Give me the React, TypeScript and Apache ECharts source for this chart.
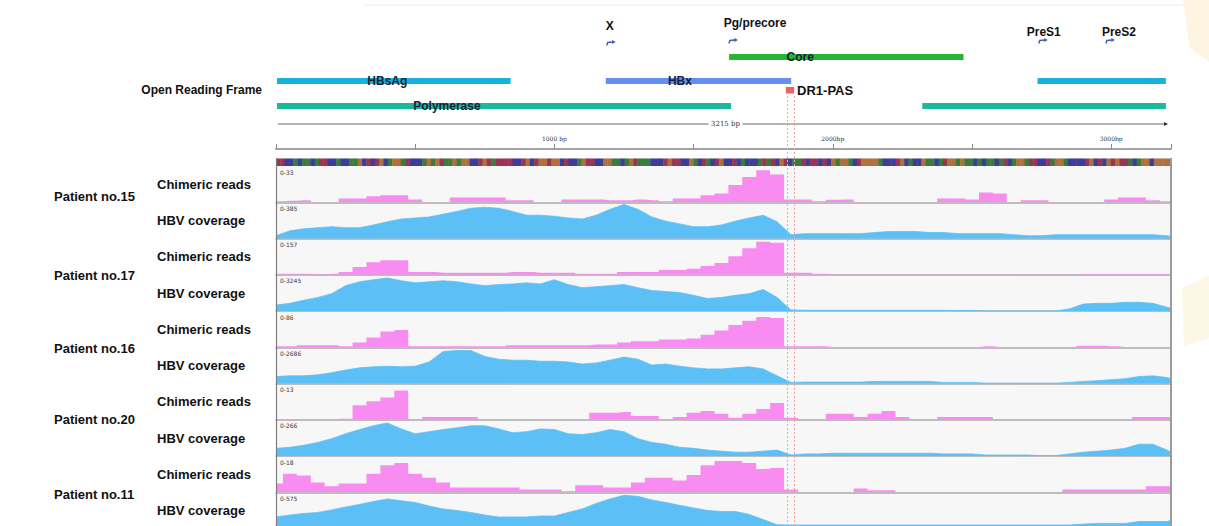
import React, { useEffect, useRef } from "react";
import * as echarts from "echarts";

// ---------------- DATA ----------------
const GENOME_LENGTH = 3215;

// bin starts (bp) shared by all coverage tracks
const binStarts = [
  0, 50, 100, 150, 200, 250, 300, 350, 400, 450,
  500, 550, 600, 650, 700, 750, 800, 850, 900, 950,
  1000, 1050, 1100, 1150, 1200, 1250, 1300, 1350, 1400, 1450,
  1500, 1550, 1600, 1650, 1700, 1750, 1800, 1850, 1900, 1950,
  2000, 2050, 2100, 2150, 2200, 2250, 2300, 2350, 2400, 2450,
  2500, 2550, 2600, 2650, 2700, 2750, 2800, 2850, 2900, 2950,
  3000, 3050, 3100, 3150, 3200, 3215,
];

// values in % of each track's data range
const chimeric15 = [
  3, 4, 6, 1, 1, 11, 11, 17, 20, 20,
  8, 1, 1, 14, 14, 14, 14, 6, 6, 1,
  1, 8, 8, 8, 6, 6, 8, 6, 3, 11,
  11, 20, 25, 50, 73, 92, 80, 8, 8, 3,
  7, 8, 1, 0, 0, 0, 0, 0, 11, 11,
  8, 28, 25, 1, 6, 6, 1, 1, 1, 1,
  8, 14, 14, 6, 3, 3,
];
const coverage15 = [
  8, 22, 28, 31, 34, 31, 31, 39, 48, 56,
  59, 62, 70, 78, 87, 90, 87, 78, 67, 67,
  64, 59, 56, 67, 84, 98, 84, 62, 50, 42,
  34, 34, 39, 50, 59, 67, 48, 11, 14, 14,
  14, 14, 14, 17, 20, 20, 20, 17, 17, 14,
  14, 14, 14, 11, 8, 8, 11, 11, 11, 11,
  11, 11, 11, 11, 8, 6,
];
const chimeric17 = [
  3, 3, 3, 1, 3, 8, 22, 36, 42, 42,
  8, 8, 6, 6, 6, 6, 6, 8, 8, 6,
  6, 6, 3, 3, 3, 8, 8, 8, 14, 14,
  17, 25, 34, 53, 76, 95, 92, 6, 6, 3,
  1, 1, 1, 1, 1, 1, 1, 1, 1, 1,
  1, 1, 1, 1, 1, 1, 1, 1, 2, 2,
  2, 2, 2, 2, 2, 1,
];
const coverage17 = [
  17, 22, 31, 39, 50, 73, 84, 90, 95, 87,
  81, 84, 87, 84, 78, 73, 76, 78, 81, 78,
  90, 76, 67, 70, 73, 76, 67, 59, 56, 53,
  45, 36, 39, 45, 50, 62, 39, 3, 2, 2,
  2, 2, 2, 2, 2, 2, 2, 2, 2, 1,
  1, 0, 0, 0, 0, 0, 0, 6, 20, 22,
  22, 25, 25, 22, 11, 8,
];
const chimeric16 = [
  3, 3, 6, 6, 6, 3, 14, 28, 45, 50,
  3, 3, 3, 3, 3, 3, 3, 6, 6, 6,
  6, 6, 6, 8, 8, 14, 17, 17, 22, 22,
  25, 36, 48, 64, 76, 87, 84, 3, 3, 3,
  1, 1, 1, 1, 1, 1, 1, 1, 1, 1,
  1, 3, 1, 1, 1, 1, 1, 1, 4, 4,
  3, 1, 1, 1, 1, 1,
];
const coverage16 = [
  20, 22, 22, 25, 31, 39, 45, 48, 50, 48,
  50, 62, 92, 95, 95, 78, 70, 67, 67, 64,
  64, 62, 56, 59, 67, 76, 70, 53, 56, 50,
  45, 42, 42, 45, 48, 42, 22, 3, 4, 4,
  4, 4, 4, 6, 6, 6, 6, 6, 3, 3,
  3, 1, 1, 1, 1, 1, 1, 3, 6, 8,
  11, 14, 20, 22, 17, 14,
];
const chimeric20 = [
  0, 0, 0, 0, 0, 3, 42, 53, 64, 84,
  0, 8, 8, 8, 8, 0, 0, 0, 0, 0,
  0, 0, 0, 20, 20, 22, 11, 11, 0, 8,
  20, 25, 17, 6, 17, 31, 48, 6, 0, 0,
  17, 17, 8, 17, 25, 8, 0, 0, 8, 8,
  8, 8, 0, 0, 0, 0, 0, 0, 0, 0,
  0, 0, 8, 8, 8, 8,
];
const coverage20 = [
  22, 25, 31, 39, 50, 64, 76, 87, 95, 78,
  64, 70, 76, 81, 87, 87, 78, 67, 70, 78,
  76, 64, 62, 67, 76, 70, 50, 39, 34, 25,
  22, 17, 14, 11, 11, 14, 17, 3, 6, 6,
  8, 8, 8, 8, 8, 8, 8, 8, 6, 6,
  6, 3, 3, 3, 3, 1, 1, 6, 11, 14,
  17, 22, 34, 34, 17, 11,
];
const chimeric11 = [
  25, 53, 48, 28, 17, 25, 25, 53, 78, 84,
  53, 42, 28, 14, 14, 14, 14, 14, 8, 8,
  8, 3, 20, 20, 14, 14, 28, 42, 42, 34,
  50, 78, 90, 90, 84, 67, 70, 8, 0, 0,
  0, 0, 11, 6, 6, 0, 0, 0, 0, 0,
  0, 0, 0, 0, 0, 0, 0, 8, 8, 8,
  8, 8, 8, 17, 17, 17,
];
const coverage11 = [
  28, 34, 39, 42, 50, 59, 67, 76, 84, 78,
  73, 62, 53, 48, 42, 34, 28, 28, 28, 31,
  31, 42, 53, 70, 84, 95, 92, 81, 73, 64,
  56, 48, 45, 45, 36, 20, 4, 3, 3, 3,
  3, 3, 3, 3, 3, 3, 3, 3, 3, 3,
  3, 3, 3, 3, 3, 3, 3, 3, 6, 8,
  8, 8, 14, 14, 14, 17,
];

const patients = ["Patient no.15", "Patient no.17", "Patient no.16", "Patient no.20", "Patient no.11"];
const trackKinds = ["Chimeric reads", "HBV coverage"];
const dataRanges = [
  ["0-33", "0-385"],
  ["0-157", "0-3245"],
  ["0-86", "0-2686"],
  ["0-13", "0-266"],
  ["0-18", "0-575"],
];
const trackValues = [
  [chimeric15, coverage15],
  [chimeric17, coverage17],
  [chimeric16, coverage16],
  [chimeric20, coverage20],
  [chimeric11, coverage11],
];

const orfSegments = [
  { gene: "HBsAg", start: 0, end: 839, labelAt: 400 },
  { gene: "HBsAg", start: 2732, end: 3193, labelAt: null },
  { gene: "HBx", start: 1181, end: 1847, labelAt: 1451 },
  { gene: "Polymerase", start: 0, end: 1631, labelAt: 614 },
  { gene: "Polymerase", start: 2318, end: 3193, labelAt: null },
  { gene: "Core", start: 1624, end: 2466, labelAt: 1883 },
];
const promoters = [
  { name: "X", site: 1188, labelAt: 1199 },
  { name: "Pg/precore", site: 1627, labelAt: 1721 },
  { name: "PreS1", site: 2740, labelAt: 2758 },
  { name: "PreS2", site: 2981, labelAt: 3028 },
];
const dr1Pas = { name: "DR1-PAS", start: 1835, end: 1861 };
const rulerLabels: Record<number, string> = { 1000: "1000 bp", 2000: "2000bp", 3000: "3000bp" };
const sequence =
  "TTCCACAACATTCCACCAAGCTCTGCAGGATCCCAGAGTAAGAGGCCTGTATTTTCCTGCTGGTGGCTCCAGTTCCGGAACAGTAAACCCTGTTCCGACTACTGCCTCACCCATATCGTCAATCTTCTCGAGGACTGGGGACCCTGCACCGAACATGGAGAACACAACATCAGGATTCCTAGGACCCCTGCTCGTGTTACAGGCGGGG";

// ---------------- LAYOUT / STYLE ----------------
const W = 1209;
const H = 526;
const PLOT_LEFT = 276;
const PLOT_RIGHT = 38;
const ANNO_H = 170;
const RULER_Y = 148;
const TRACK_TOP0 = 166;
const TRACK_H = 36.25;
const trackTop = (i: number) => TRACK_TOP0 + TRACK_H * i;
const FONT = '"Liberation Sans", Arial, sans-serif';
const PINK = "#f98cf0";
const BLUE = "#5cc0f6";
const geneRow: Record<string, number> = { Core: 57, HBsAg: 81, HBx: 81, Polymerase: 106 };
const geneColor: Record<string, string> = {
  HBsAg: "#17b3dd",
  HBx: "#6590ef",
  Polymerase: "#19b99a",
  Core: "#27b533",
};
const promoterRows: Record<string, [number, number]> = {
  X: [26, 43],
  "Pg/precore": [23, 41],
  PreS1: [32, 41],
  PreS2: [32, 41],
};
const baseColor: Record<string, string> = { A: "#3a7c3c", C: "#3b3c9c", G: "#b1703a", T: "#9a3452" };
const patientNudge = [-6, 1, 1, 0, 2];

function txt(text: string, size: number, weight: string, align: string, vAlign = "middle", fill = "#111", family = FONT) {
  return {
    text,
    fill,
    fontSize: size,
    fontWeight: weight,
    fontFamily: family,
    align,
    verticalAlign: vAlign,
    textAlign: align,
    textVerticalAlign: vAlign,
  };
}

function buildOption() {
  const base = { left: PLOT_LEFT, right: PLOT_RIGHT };
  const grid: any[] = [];
  const xAxis: any[] = [];
  const yAxis: any[] = [];
  const series: any[] = [];

  // 0: annotation grid (y in pixels)
  grid.push({ ...base, top: 0, height: ANNO_H });
  xAxis.push({ type: "value", gridIndex: 0, min: 0, max: GENOME_LENGTH, show: false });
  yAxis.push({ type: "value", gridIndex: 0, min: 0, max: ANNO_H, inverse: true, show: false });

  // 1: ruler
  grid.push({ ...base, top: RULER_Y, height: 1 });
  xAxis.push({
    type: "value",
    gridIndex: 1,
    position: "top",
    min: 0,
    max: GENOME_LENGTH,
    interval: 500,
    axisLine: { show: true, lineStyle: { color: "#a3a3a3", width: 2 } },
    axisTick: { show: true, length: 5, lineStyle: { color: "#8a8a8a", width: 1 } },
    axisLabel: {
      show: true,
      fontSize: 6,
      color: "#333",
      margin: 7,
      fontFamily: "DejaVu Serif",
      formatter: (v: number) => rulerLabels[v] ?? "",
    },
    splitLine: { show: false },
  });
  yAxis.push({ type: "value", gridIndex: 1, min: 0, max: 1, show: false });

  // tracks
  trackValues.forEach((pair, p) =>
    pair.forEach((vals, k) => {
      const i = p * 2 + k;
      const gi = grid.length;
      const color = k === 0 ? PINK : BLUE;
      grid.push({ ...base, top: trackTop(i) + 1.5, height: TRACK_H - 1.5 });
      xAxis.push({
        type: "value",
        gridIndex: gi,
        min: 0,
        max: GENOME_LENGTH,
        axisLine: { show: true, onZero: false, lineStyle: { color: "#ababab", width: 1.5 } },
        axisTick: { show: false },
        axisLabel: { show: false },
        splitLine: { show: false },
      });
      yAxis.push({ type: "value", gridIndex: gi, min: 0, max: 100, show: false, splitLine: { show: false } });
      series.push({
        type: "line",
        xAxisIndex: gi,
        yAxisIndex: gi,
        data: binStarts.map((b, j) => [b, vals[j]]),
        symbol: "none",
        showSymbol: false,
        step: k === 0 ? "middle" : false,
        lineStyle: { width: k === 0 ? 0 : 0.8, color },
        areaStyle: { color, opacity: 1 },
        silent: true,
        z: 3,
      });
    })
  );

  // overlay grid for the DR1-PAS dotted lines
  const oi = grid.length;
  grid.push({ ...base, top: 94, height: H - 94 });
  xAxis.push({ type: "value", gridIndex: oi, min: 0, max: GENOME_LENGTH, show: false });
  yAxis.push({ type: "value", gridIndex: oi, min: 0, max: 1, show: false });
  series.push({
    type: "line",
    xAxisIndex: oi,
    yAxisIndex: oi,
    data: [[0, 0]],
    symbol: "none",
    showSymbol: false,
    lineStyle: { width: 0 },
    z: 20,
    silent: true,
    markLine: {
      silent: true,
      symbol: ["none", "none"],
      label: { show: false },
      lineStyle: { color: "#f2a2a2", type: [2, 2], width: 1 },
      data: [{ xAxis: dr1Pas.start }, { xAxis: dr1Pas.end }],
    },
  });

  // ORF bars
  series.push({
    type: "custom",
    xAxisIndex: 0,
    yAxisIndex: 0,
    clip: false,
    silent: true,
    z: 5,
    data: orfSegments.map((s) => [s.start, s.end]),
    renderItem: (params: any, api: any) => {
      const s = orfSegments[params.dataIndex];
      const y = geneRow[s.gene];
      const a = api.coord([s.start, y]);
      const b = api.coord([s.end, y]);
      const children: any[] = [
        { type: "rect", shape: { x: a[0] + 1, y: a[1] - 3, width: b[0] - a[0], height: 6 }, style: { fill: geneColor[s.gene] } },
      ];
      if (s.labelAt != null) {
        const c = api.coord([s.labelAt, y]);
        children.push({ type: "text", x: c[0], y: c[1], z2: 10, style: txt(s.gene, 12, "bold", "center", "middle", "#1b2036") });
      }
      return { type: "group", children };
    },
  });

  // promoters
  series.push({
    type: "custom",
    xAxisIndex: 0,
    yAxisIndex: 0,
    clip: false,
    silent: true,
    z: 5,
    data: promoters.map((p) => [p.site]),
    renderItem: (params: any, api: any) => {
      const pr = promoters[params.dataIndex];
      const rows = promoterRows[pr.name];
      const a = api.coord([pr.site, rows[1]]);
      const t = api.coord([pr.labelAt, rows[0]]);
      const x = a[0];
      const y = a[1];
      const col = "#3f5cae";
      return {
        type: "group",
        children: [
          { type: "polyline", shape: { points: [[x, y + 2.5], [x + 1, y - 0.5], [x + 6, y - 1]] }, style: { stroke: col, lineWidth: 1.4, fill: "none" } },
          { type: "polygon", shape: { points: [[x + 5.5, y - 3], [x + 9, y - 1], [x + 5.5, y + 1]] }, style: { fill: col } },
          { type: "text", x: t[0], y: t[1], style: txt(pr.name, 12, "bold", "center") },
        ],
      };
    },
  });

  // DR1-PAS marker
  series.push({
    type: "custom",
    xAxisIndex: 0,
    yAxisIndex: 0,
    clip: false,
    silent: true,
    z: 6,
    data: [[dr1Pas.start, dr1Pas.end]],
    renderItem: (_params: any, api: any) => {
      const a = api.coord([dr1Pas.start, 87]);
      const b = api.coord([dr1Pas.end, 93.5]);
      return {
        type: "group",
        children: [
          { type: "rect", shape: { x: a[0] - 1, y: a[1], width: b[0] - a[0] + 1, height: b[1] - a[1] }, style: { fill: "#f15f5f" } },
          { type: "text", x: b[0] + 3, y: 90.5, style: txt(dr1Pas.name, 13, "bold", "left") },
        ],
      };
    },
  });

  // sequence strip
  series.push({
    type: "custom",
    xAxisIndex: 0,
    yAxisIndex: 0,
    clip: false,
    silent: true,
    z: 4,
    data: sequence.split("").map((_c, i) => [i]),
    renderItem: (params: any, api: any) => {
      const i = params.dataIndex;
      const n = sequence.length;
      const a = api.coord([(i * GENOME_LENGTH) / n, 158.5]);
      const b = api.coord([((i + 1) * GENOME_LENGTH) / n, 166]);
      return {
        type: "rect",
        shape: { x: a[0], y: a[1], width: b[0] - a[0] + 0.4, height: b[1] - a[1] },
        style: { fill: baseColor[sequence[i]] },
      };
    },
  });

  // genome length scale bar
  series.push({
    type: "custom",
    xAxisIndex: 0,
    yAxisIndex: 0,
    clip: false,
    silent: true,
    z: 4,
    data: [[GENOME_LENGTH]],
    renderItem: (_params: any, api: any) => {
      const y = 124;
      const l = api.coord([0, y]);
      const r = api.coord([GENOME_LENGTH, y]);
      const m = api.coord([GENOME_LENGTH / 2, y]);
      const col = "#6b6b6b";
      return {
        type: "group",
        children: [
          { type: "line", shape: { x1: l[0] + 2, y1: y, x2: m[0] - 15, y2: y }, style: { stroke: col, lineWidth: 1 } },
          { type: "line", shape: { x1: m[0] + 19, y1: y, x2: r[0] - 6, y2: y }, style: { stroke: col, lineWidth: 1 } },
          { type: "polygon", shape: { points: [[r[0] - 7, y - 2], [r[0] - 3, y], [r[0] - 7, y + 2]] }, style: { fill: "#333" } },
          { type: "text", x: m[0] + 2, y: y, style: txt(`${GENOME_LENGTH} bp`, 7, "normal", "center", "middle", "#333", "DejaVu Serif") },
        ],
      };
    },
  });

  // ---------------- graphic ----------------
  const graphic: any[] = [
    { type: "line", shape: { x1: 363, y1: 5, x2: W, y2: 5 }, style: { stroke: "#f0f0f0", lineWidth: 1 }, silent: true },
    { type: "polygon", shape: { points: [[1183, 0], [W, 0], [W, 62], [1190, 48]] }, style: { fill: "#fdf5e2" }, silent: true },
    { type: "polygon", shape: { points: [[1182, 288], [W, 276], [W, 338], [1184, 346]] }, style: { fill: "#fdf7e8" }, silent: true },
    { type: "rect", shape: { x: PLOT_LEFT, y: 158, width: W - PLOT_LEFT - PLOT_RIGHT, height: H - 158 }, style: { fill: "#f7f7f7" }, z: -10, silent: true },
    { type: "line", shape: { x1: PLOT_LEFT + 0.5, y1: 158, x2: PLOT_LEFT + 0.5, y2: H }, style: { stroke: "#7d7d7d", lineWidth: 1.2 }, z: 30, silent: true },
    { type: "line", shape: { x1: W - PLOT_RIGHT, y1: 158, x2: W - PLOT_RIGHT, y2: H }, style: { stroke: "#9b9b9b", lineWidth: 2 }, z: 30, silent: true },
    { type: "text", x: 262, y: 89.5, style: txt("Open Reading Frame", 12, "bold", "right") },
  ];
  patients.forEach((name, p) => {
    const t0 = trackTop(p * 2);
    const t1 = trackTop(p * 2 + 1);
    graphic.push({ type: "text", x: 54, y: t1 + patientNudge[p], style: txt(name, 13, "bold", "left") });
    graphic.push({ type: "text", x: 157, y: t0 + 18, style: txt(trackKinds[0], 13, "bold", "left") });
    graphic.push({ type: "text", x: 157, y: t1 + 18.5, style: txt(trackKinds[1], 13, "bold", "left") });
    dataRanges[p].forEach((lab, k) => {
      graphic.push({
        type: "text",
        x: 280,
        y: trackTop(p * 2 + k) + 6,
        z: 30,
        style: txt(lab, 6, "normal", "left", "middle", "#3a3a3a", "DejaVu Sans"),
      });
    });
  });

  return {
    animation: false,
    backgroundColor: "#ffffff",
    grid,
    xAxis,
    yAxis,
    series,
    graphic,
  };
}

export default function App() {
  const ref = useRef<HTMLDivElement>(null);
  useEffect(() => {
    if (!ref.current) return;
    const chart = echarts.init(ref.current, null, { renderer: "svg" });
    chart.setOption(buildOption() as any);
    return () => chart.dispose();
  }, []);
  return <div ref={ref} style={{ position: "fixed", left: 0, top: 0, width: W, height: H }} />;
}
